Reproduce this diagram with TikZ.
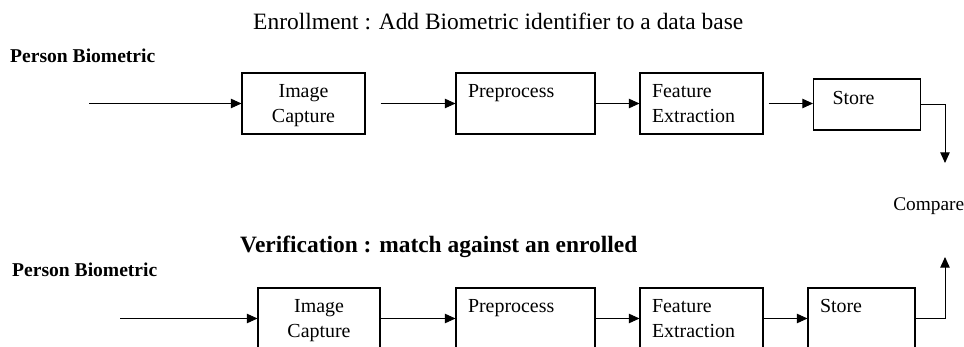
\documentclass[tikz,border=0pt]{standalone}
\usepackage{fontspec}
\setmainfont{Liberation Serif}
\usetikzlibrary{arrows.meta}

\tikzset{
  stage/.style={draw, line width=0.9pt, minimum height=1.83cm, inner sep=0pt,
    font=\fontsize{17pt}{21.3pt}\selectfont},
  flow/.style={-{Triangle[length=9pt,width=8pt]}, line width=0.8pt},
  heading/.style={anchor=base west, inner sep=0pt, font=\fontsize{20pt}{24pt}\selectfont},
  source/.style={anchor=base west, inner sep=0pt, font=\fontsize{16.7pt}{20pt}\selectfont\bfseries},
}

\begin{document}
\begin{tikzpicture}[x=0.03cm, y=-0.03cm]
  \useasboundingbox (0,0) rectangle (964,347);
  \clip (0,0) rectangle (964,347);

  % enrollment row
  \node[heading] (title1) at (253,30) {Enrollment : Add Biometric identifier to a data base};
  \node[source] (src1) at (10,63) {Person Biometric};
  \coordinate (in1) at (89,103.5);
  \node[stage, minimum width=3.69cm, text width=3.3cm, align=center] (cap1) at (303.5,103.5) {\strut Image\\Capture};
  \node[stage, minimum width=4.17cm, text width=3.45cm, align=left] (pre1) at (525.5,103.5) {Preprocess\\\mbox{}};
  \node[stage, minimum width=3.69cm, text width=2.97cm, align=left] (fea1) at (701.5,103.5) {Feature\\Extraction};
  \node[stage, minimum width=3.21cm, minimum height=1.53cm, text width=2.07cm, align=left,
        text height=0.25cm, text depth=0.25cm] (sto1) at (867,104.5) {Store};
  \coordinate (cmp1) at (945,163);

  % verification row
  \node[heading, font=\fontsize{20pt}{24pt}\selectfont\bfseries] (title2) at (240,253) {Verification : match against an enrolled};
  \node[source] (src2) at (12,276) {Person Biometric};
  \coordinate (in2) at (120,318.5);
  \node[stage, minimum width=3.66cm, text width=3.3cm, align=center] (cap2) at (319,318.5) {\strut Image\\Capture};
  \node[stage, minimum width=4.17cm, text width=3.45cm, align=left] (pre2) at (525.5,318.5) {Preprocess\\\mbox{}};
  \node[stage, minimum width=3.69cm, text width=2.97cm, align=left] (fea2) at (701.5,318.5) {Feature\\Extraction};
  \node[stage, minimum width=3.21cm, text width=2.49cm, align=left] (sto2) at (861.5,318.5) {Store\\\mbox{}};
  \coordinate (cmp2) at (945,257);

  \node[anchor=base west, inner sep=0pt, font=\fontsize{16.5pt}{20pt}\selectfont] (cmp) at (893,211) {Compare};

  % connectors
  \draw[flow] (in1) -- (cap1);
  \draw[flow, shorten <=0.45cm] (cap1) -- (pre1);
  \draw[flow] (pre1) -- (fea1);
  \draw[flow, shorten <=0.15cm] (fea1.east) -- (fea1.east -| sto1.west);
  \draw[flow] (sto1.east) -| (cmp1);

  \draw[flow] (in2) -- (cap2);
  \draw[flow] (cap2) -- (pre2);
  \draw[flow] (pre2) -- (fea2);
  \draw[flow] (fea2) -- (sto2);
  \draw[flow] (sto2.east) -| (cmp2);

\end{tikzpicture}
\end{document}
